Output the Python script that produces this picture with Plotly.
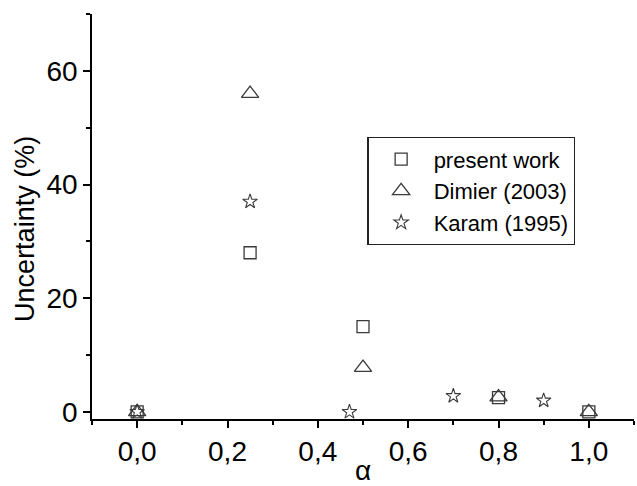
import plotly.graph_objects as go

# Uncertainty vs alpha for three studies
alpha_present = [0.0, 0.25, 0.5, 0.8, 1.0]
unc_present = [0.0, 28.0, 15.0, 2.5, 0.0]

alpha_dimier = [0.0, 0.25, 0.5, 0.8, 1.0]
unc_dimier = [0.0, 56.0, 7.8, 2.6, 0.0]

alpha_karam = [0.0, 0.25, 0.47, 0.7, 0.9]
unc_karam = [0.0, 37.0, 0.0, 2.8, 2.0]

mk_color = "#3a3a3a"
font_family = "Arial, Liberation Sans, sans-serif"

fig = go.Figure()
fig.add_trace(go.Scatter(
    x=alpha_present, y=unc_present, mode="markers", name="present work",
    marker=dict(symbol="square-open", size=12, color=mk_color, line=dict(width=1.3)),
))
fig.add_trace(go.Scatter(
    x=alpha_dimier, y=unc_dimier, mode="markers", name="Dimier (2003)",
    marker=dict(symbol="triangle-up-open", size=15, color=mk_color, line=dict(width=1.3)),
))
fig.add_trace(go.Scatter(
    x=alpha_karam, y=unc_karam, mode="markers", name="Karam (1995)",
    marker=dict(symbol="star-open", size=11, color=mk_color, line=dict(width=1.1)),
))

axis_common = dict(
    showgrid=False, zeroline=False, showline=True, linecolor="black", linewidth=1.5,
    ticks="outside", tickcolor="black", tickwidth=1.5, ticklen=7,
    tickfont=dict(family=font_family, size=28, color="black"),
    automargin=False,
)

fig.update_layout(
    width=637, height=486,
    margin=dict(l=92, r=3, t=14, b=67),
    paper_bgcolor="white", plot_bgcolor="white",
    separators=",.",
    showlegend=True,
    legend=dict(
        x=0.508, y=0.696, xanchor="left", yanchor="top",
        bordercolor="#222222", borderwidth=1.3, bgcolor="white",
        font=dict(family=font_family, size=22, color="black"),
        itemwidth=55, tracegroupgap=0,
    ),
    xaxis=dict(
        range=[-0.1, 1.1], tick0=0, dtick=0.2, tickformat=".1f",
        minor=dict(dtick=0.1, ticklen=4, ticks="outside", tickcolor="black", tickwidth=1.5),
        title=dict(text="α", font=dict(family=font_family, size=28, color="black"), standoff=0),
        **axis_common,
    ),
    yaxis=dict(
        range=[-1.25, 70], tick0=0, dtick=20,
        minor=dict(dtick=10, ticklen=4, ticks="outside", tickcolor="black", tickwidth=1.5),
        **axis_common,
    ),
)

# Y-axis title, set slightly below the plot centre
fig.add_annotation(
    text="Uncertainty (%)", textangle=-90, showarrow=False,
    xref="paper", yref="paper", x=-0.125, y=0.47, xanchor="center", yanchor="middle",
    font=dict(family=font_family, size=27, color="black"),
)

fig.write_html("out.html")
